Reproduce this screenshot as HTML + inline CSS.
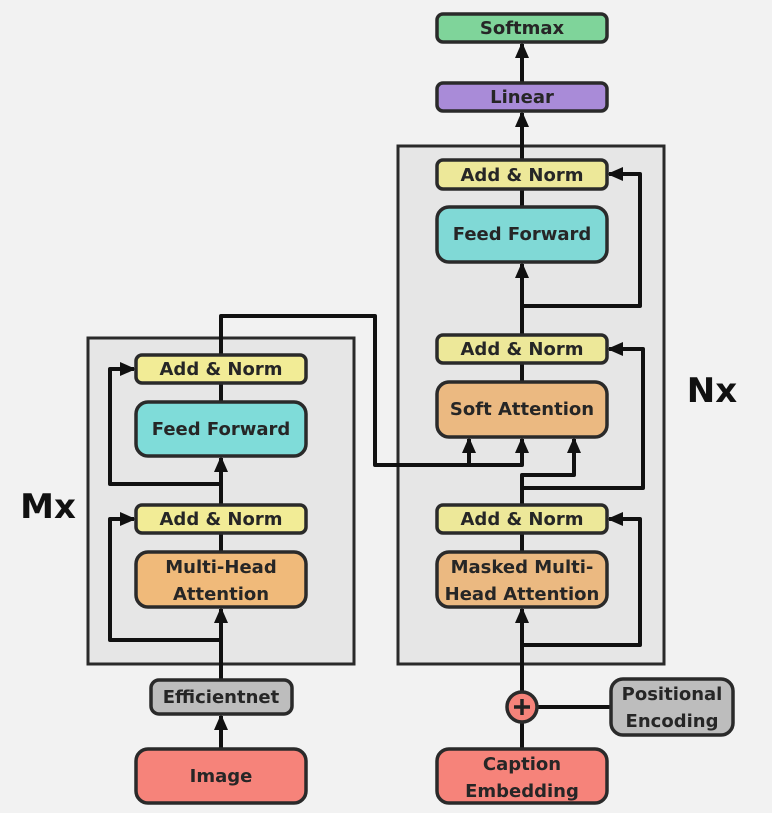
<!DOCTYPE html>
<html><head><style>
body{margin:0;background:#f2f2f2;}
svg{display:block;font-family:"DejaVu Sans","Liberation Sans",sans-serif;font-weight:bold;}
text{fill:#262626;text-anchor:middle;}
</style></head><body>
<svg width="772" height="813" viewBox="0 0 772 813" xmlns="http://www.w3.org/2000/svg">
<defs>
<marker id="a" markerWidth="16" markerHeight="14" refX="14" refY="7" orient="auto" markerUnits="userSpaceOnUse" viewBox="0 0 16 14">
<path d="M0,0 L16,7 L0,14 z" fill="#111"/></marker>
</defs>
<rect width="772" height="813" fill="#f2f2f2"/>
<rect x="88" y="338" width="266" height="326" fill="#e6e6e6" stroke="#2a2a2a" stroke-width="3"/>
<rect x="398" y="146" width="266" height="518" fill="#e6e6e6" stroke="#2a2a2a" stroke-width="3"/>
<g fill="none" stroke="#111" stroke-width="4" stroke-linejoin="round">
<path d="M221 680 V609" marker-end="url(#a)"/>
<path d="M221 749 V716" marker-end="url(#a)"/>
<path d="M221 640 H110 V519 H134" marker-end="url(#a)"/>
<path d="M221 552 V533"/>
<path d="M221 505 V458" marker-end="url(#a)"/>
<path d="M221 484 H110 V369 H134" marker-end="url(#a)"/>
<path d="M221 402 V383"/>
<path d="M221 355 V316 H375 V465 H522 V439" marker-end="url(#a)"/>
<path d="M469 465 V439" marker-end="url(#a)"/>
<path d="M522 749 V722"/>
<path d="M522 692 V609" marker-end="url(#a)"/>
<path d="M537 707 H611"/>
<path d="M522 645 H640 V519 H609" marker-end="url(#a)"/>
<path d="M522 552 V533"/>
<path d="M522 505 V475 H574 V439" marker-end="url(#a)"/>
<path d="M522 488 H643 V349 H609" marker-end="url(#a)"/>
<path d="M522 382 V363"/>
<path d="M522 335 V264" marker-end="url(#a)"/>
<path d="M522 306 H640 V174 H609" marker-end="url(#a)"/>
<path d="M522 207 V189"/>
<path d="M522 160 V113" marker-end="url(#a)"/>
<path d="M522 83 V44" marker-end="url(#a)"/>
</g>
<g stroke="#2a2a2a" stroke-width="3.5">
<rect x="136" y="355" width="170" height="28" rx="6" fill="#f2ec96"/>
<rect x="136" y="402" width="170" height="54" rx="12" fill="#7fdcd9"/>
<rect x="136" y="505" width="170" height="28" rx="6" fill="#f2ec96"/>
<rect x="136" y="552" width="170" height="55" rx="12" fill="#f0ba7a"/>
<rect x="151" y="680" width="141" height="34" rx="8" fill="#bdbdbd"/>
<rect x="136" y="749" width="170" height="54" rx="12" fill="#f6837a"/>
<rect x="437" y="14" width="170" height="28" rx="6" fill="#7fd49a"/>
<rect x="437" y="83" width="170" height="28" rx="6" fill="#a98bd8"/>
<rect x="437" y="160" width="170" height="29" rx="6" fill="#ede899"/>
<rect x="437" y="207" width="170" height="55" rx="12" fill="#80d9d6"/>
<rect x="437" y="335" width="170" height="28" rx="6" fill="#ede899"/>
<rect x="437" y="382" width="170" height="55" rx="12" fill="#ebb981"/>
<rect x="437" y="505" width="170" height="28" rx="6" fill="#ede899"/>
<rect x="437" y="552" width="170" height="55" rx="12" fill="#ebb981"/>
<rect x="611" y="679" width="122" height="56" rx="12" fill="#bdbdbd"/>
<rect x="437" y="749" width="170" height="54" rx="12" fill="#f6837a"/>
<circle cx="522" cy="707" r="15" fill="#f6837a"/>
</g>
<path d="M522 699 V715 M514 707 H530" stroke="#222" stroke-width="3.5"/>
<g font-size="18">
<text x="221" y="375">Add &amp; Norm</text>
<text x="221" y="435">Feed Forward</text>
<text x="221" y="525">Add &amp; Norm</text>
<text x="221" y="573">Multi-Head</text>
<text x="221" y="600">Attention</text>
<text x="221" y="703">Efficientnet</text>
<text x="221" y="782">Image</text>
<text x="522" y="34">Softmax</text>
<text x="522" y="103">Linear</text>
<text x="522" y="181">Add &amp; Norm</text>
<text x="522" y="240">Feed Forward</text>
<text x="522" y="355">Add &amp; Norm</text>
<text x="522" y="415">Soft Attention</text>
<text x="522" y="525">Add &amp; Norm</text>
<text x="522" y="573">Masked Multi-</text>
<text x="522" y="600">Head Attention</text>
<text x="672" y="700">Positional</text>
<text x="672" y="727">Encoding</text>
<text x="522" y="770">Caption</text>
<text x="522" y="797">Embedding</text>
</g>
<text x="48" y="518" font-size="34" style="fill:#111">Mx</text>
<text x="712" y="402" font-size="34" style="fill:#111">Nx</text>
</svg>
</body></html>
